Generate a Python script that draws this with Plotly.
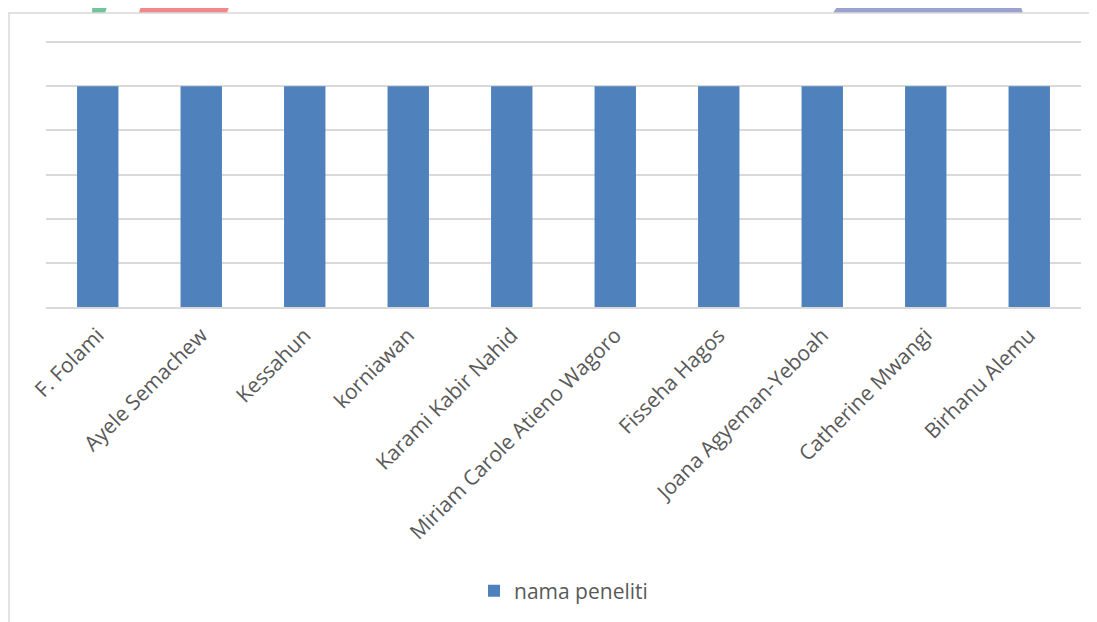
import plotly.graph_objects as go

categories = ["F. Folami", "Ayele Semachew", "Kessahun", "korniawan", "Karami Kabir Nahid",
              "Miriam Carole Atieno Wagoro", "Fisseha Hagos", "Joana Agyeman-Yeboah",
              "Catherine Mwangi", "Birhanu Alemu"]
values = [1, 1, 1, 1, 1, 1, 1, 1, 1, 1]
series_name = "nama peneliti"

W, H = 1097, 622
OFF = 8  # page offset of the figure in the browser
L, R, T, B = 38, 24, 30, 323
pw, ph = W - L - R, H - T - B
YTOP = 1.2 * ph / 265.0

def px(x):
    return (x - OFF - L) / pw

def py(y):
    return (H - B - (y - OFF)) / ph

fig = go.Figure()
fig.add_trace(go.Bar(x=categories, y=values, name=series_name, marker_color="#4f81bd",
                     marker_line_width=0))

def poly(points, color):
    d = "M " + " L ".join(f"{px(a):.5f},{py(b):.5f}" for a, b in points) + " Z"
    return dict(type="path", xref="paper", yref="paper", path=d, fillcolor=color,
                line=dict(width=0), layer="below")

shapes = [
    poly([(93, -10), (113, -10), (105, 13), (92, 13)], "#72c59b"),
    poly([(145, -10), (235, -10), (227, 13), (139, 13)], "#f28889"),
    poly([(848, -10), (1015, -10), (1023, 13), (833, 13)], "#9ba2cf"),
    dict(type="rect", xref="paper", yref="paper", x0=px(9), x1=px(1120), y0=py(640), y1=py(13),
         line=dict(color="#d9d9d9", width=1.5), fillcolor="rgba(0,0,0,0)", layer="below"),
]

fig.update_layout(
    width=W, height=H,
    margin=dict(l=L, r=R, t=T, b=B),
    paper_bgcolor="white", plot_bgcolor="white",
    bargap=0.6,
    font=dict(family="Open Sans", color="#595959", size=21),
    xaxis=dict(tickangle=-45, showgrid=False, showline=True, linecolor="#d9d9d9", linewidth=1.5,
               ticks="", ticklabelstandoff=6, tickfont=dict(size=21, color="#595959")),
    yaxis=dict(range=[0, YTOP], tickvals=[0, 0.2, 0.4, 0.6, 0.8, 1.0, 1.2], showticklabels=False,
               gridcolor="#d9d9d9", gridwidth=1.5, zeroline=False, showline=False),
    showlegend=True,
    legend=dict(orientation="h", x=0.5, xanchor="center", y=py(591), yanchor="middle",
                font=dict(size=21, color="#595959")),
    shapes=shapes,
)

fig.write_html("out.html")
